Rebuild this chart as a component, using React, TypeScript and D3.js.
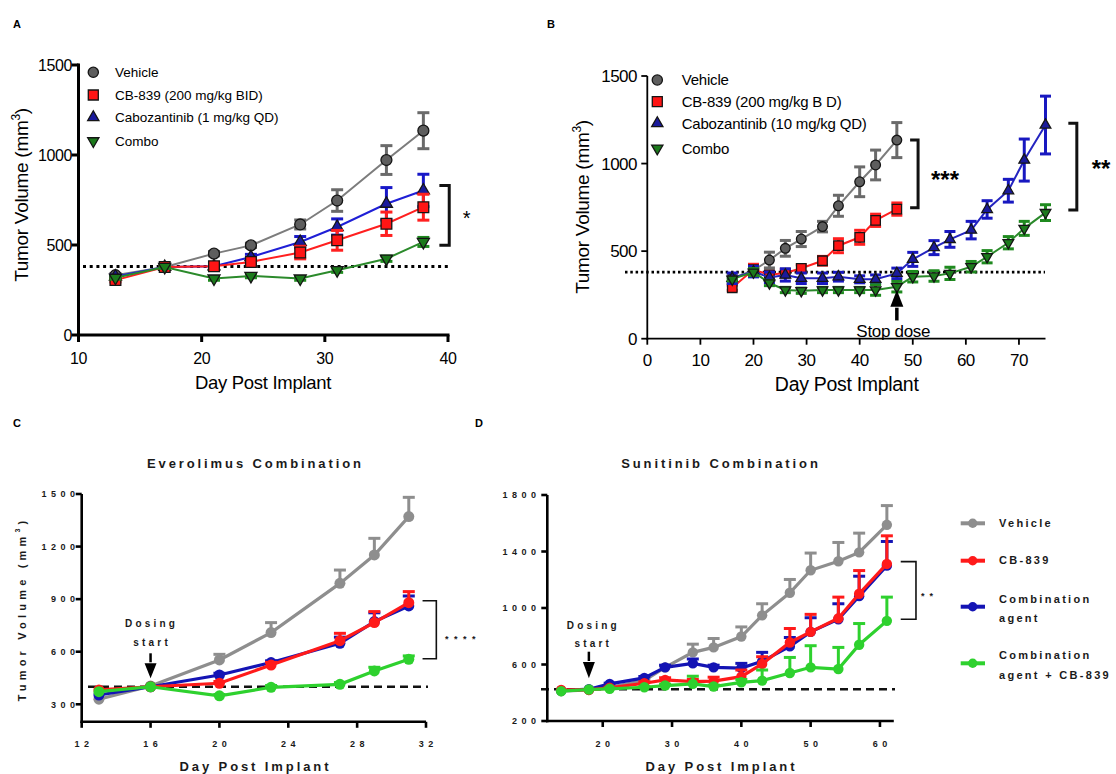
import React from 'react';
import * as d3 from 'd3';

const SANS = '"Liberation Sans", Arial, Helvetica, sans-serif';

// ---------- Panel A ----------
const daysA = [13, 17, 21, 24, 28, 31, 35, 38];
const vehicleA = [332, 378, 452, 498, 614, 747, 972, 1135];
const vehicleAErr = [10, 10, 12, 12, 25, 60, 80, 100];
const cb839A = [305, 378, 382, 406, 458, 526, 618, 710];
const cb839AErr = [10, 10, 12, 15, 35, 55, 65, 72];
const caboA = [325, 378, 382, 433, 517, 600, 729, 803];
const caboAErr = [8, 8, 10, 15, 30, 45, 90, 90];
const comboA = [318, 378, 314, 328, 314, 360, 424, 517];
const comboAErr = [8, 8, 10, 10, 10, 12, 15, 25];
const ticksAX = [10, 20, 30, 40];
const ticksAY = [0, 500, 1000, 1500];

// ---------- Panel B ----------
const daysB1 = [16, 20, 23, 26, 29, 33, 36, 40, 43, 47];
const daysB2 = [16, 20, 23, 26, 29, 33, 36, 40, 43, 47, 50, 54, 57, 61, 64, 68, 71, 75];
const vehicleB = [345, 390, 449, 516, 569, 640, 759, 896, 992, 1134];
const vehicleBErr = [15, 30, 45, 45, 43, 30, 60, 85, 85, 100];
const cb839B = [291, 395, 365, 375, 402, 445, 531, 579, 676, 740];
const cb839BErr = [15, 30, 20, 20, 20, 25, 40, 40, 35, 35];
const caboB = [345, 383, 350, 364, 345, 345, 354, 339, 339, 373, 453, 520, 567, 620, 738, 845, 1020, 1220];
const caboBErr = [30, 30, 30, 35, 30, 30, 25, 20, 25, 30, 40, 40, 45, 50, 50, 65, 120, 165];
const comboB = [340, 380, 318, 278, 274, 278, 278, 278, 278, 297, 354, 358, 373, 411, 468, 548, 630, 720];
const comboBErr = [10, 20, 15, 15, 15, 15, 15, 15, 30, 30, 30, 30, 35, 30, 35, 35, 40, 45];
const ticksBX = [0, 10, 20, 30, 40, 50, 60, 70];
const ticksBY = [0, 500, 1000, 1500];

// ---------- Panel C (Everolimus) ----------
const daysC = [13, 16, 20, 23, 27, 29, 31];
const vehicleC = [329, 405, 553, 709, 990, 1152, 1371];
const vehicleCErr = [0, 0, 32, 57, 76, 95, 110];
const cb839C = [382, 400, 420, 524, 663, 766, 880];
const cb839CErr = [0, 0, 10, 15, 42, 63, 63];
const agentC = [353, 400, 467, 538, 648, 772, 861];
const agentCErr = [0, 0, 10, 10, 35, 50, 57];
const agentCbC = [372, 400, 348, 397, 414, 490, 557];
const agentCbCErr = [0, 0, 8, 10, 10, 21, 19];
const ticksCX = [12, 16, 20, 24, 28, 32];
const ticksCY = [300, 600, 900, 1200, 1500];

// ---------- Panel D (Sunitinib) ----------
const daysD = [14, 18, 21, 26, 29, 33, 36, 40, 43, 47, 50, 54, 57, 61];
const vehicleD = [411, 420, 439, 486, 580, 686, 721, 798, 948, 1108, 1267, 1331, 1394, 1589];
const vehicleDErr = [0, 0, 5, 10, 10, 58, 63, 68, 82, 94, 122, 133, 136, 136];
const cb839D = [420, 420, 435, 467, 491, 479, 482, 514, 604, 756, 831, 927, 1101, 1312];
const cb839DErr = [0, 0, 5, 10, 15, 15, 28, 47, 51, 99, 124, 150, 164, 199];
const agentD = [416, 425, 463, 505, 580, 608, 580, 575, 622, 728, 831, 920, 1084, 1300];
const agentDErr = [0, 0, 5, 10, 15, 31, 15, 33, 64, 63, 100, 110, 141, 171];
const agentCbD = [411, 423, 428, 439, 451, 463, 444, 474, 486, 540, 580, 568, 740, 909];
const agentCbDErr = [0, 0, 5, 5, 10, 54, 10, 20, 75, 110, 153, 153, 150, 168];
const ticksDX = [20, 30, 40, 50, 60];
const ticksDY = [200, 600, 1000, 1400, 1800];

// scales
const xA = d3.scaleLinear().domain([10, 40]).range([78.5, 448]);
const yA = d3.scaleLinear().domain([0, 1500]).range([335, 65]);
const xB = d3.scaleLinear().domain([0, 75]).range([647.3, 1045.5]);
const yB = d3.scaleLinear().domain([0, 1500]).range([338.7, 76]);
const xC = d3.scaleLinear().domain([12, 32]).range([81.7, 426]);
const yC = d3.scaleLinear().domain([200, 1500]).range([721.8, 494]);
const xD = d3.scaleLinear().domain([12, 62]).range([547.3, 893.8]);
const yD = d3.scaleLinear().domain([200, 1800]).range([721, 495]);

type Mark = 'circle' | 'square' | 'up' | 'down';
type Scale = d3.ScaleLinear<number, number>;

interface ABSeries {
  label: string; days: number[]; values: number[]; errs: number[];
  line: string; err: string; fill: string; mark: Mark;
}

interface CDSeries {
  label: string[]; days: number[]; values: number[]; errs: number[]; color: string;
}

const GRAY = '#7c7c7c', RED = '#ff1f1f', BLUE = '#1f1fd6', GREEN = '#2b8a2b';

const seriesA: ABSeries[] = [
  { label: 'Vehicle', days: daysA, values: vehicleA, errs: vehicleAErr, line: GRAY, err: '#6a6a6a', fill: '#5e5e5e', mark: 'circle' },
  { label: 'CB-839 (200 mg/kg BID)', days: daysA, values: cb839A, errs: cb839AErr, line: RED, err: '#ff2020', fill: '#ff1515', mark: 'square' },
  { label: 'Cabozantinib (1 mg/kg QD)', days: daysA, values: caboA, errs: caboAErr, line: BLUE, err: '#1818c8', fill: '#1a1a9c', mark: 'up' },
  { label: 'Combo', days: daysA, values: comboA, errs: comboAErr, line: GREEN, err: '#1f8a1f', fill: '#1c7a1c', mark: 'down' },
];

const seriesB: ABSeries[] = [
  { label: 'Vehicle', days: daysB1, values: vehicleB, errs: vehicleBErr, line: GRAY, err: '#6a6a6a', fill: '#5e5e5e', mark: 'circle' },
  { label: 'CB-839 (200 mg/kg B D)', days: daysB1, values: cb839B, errs: cb839BErr, line: RED, err: '#ff2020', fill: '#ff1515', mark: 'square' },
  { label: 'Cabozantinib (10 mg/kg QD)', days: daysB2, values: caboB, errs: caboBErr, line: '#2424c0', err: '#1818c0', fill: '#1a1a9c', mark: 'up' },
  { label: 'Combo', days: daysB2, values: comboB, errs: comboBErr, line: GREEN, err: '#1f8a1f', fill: '#1c7a1c', mark: 'down' },
];

const CD_GRAY = '#8e8e8e', CD_RED = '#ff1a1a', CD_BLUE = '#1414b4', CD_GREEN = '#2ed12e';

const seriesC: CDSeries[] = [
  { label: ['Vehicle'], days: daysC, values: vehicleC, errs: vehicleCErr, color: CD_GRAY },
  { label: ['Combination', 'agent'], days: daysC, values: agentC, errs: agentCErr, color: CD_BLUE },
  { label: ['CB-839'], days: daysC, values: cb839C, errs: cb839CErr, color: CD_RED },
  { label: ['Combination', 'agent + CB-839'], days: daysC, values: agentCbC, errs: agentCbCErr, color: CD_GREEN },
];

const seriesD: CDSeries[] = [
  { label: ['Vehicle'], days: daysD, values: vehicleD, errs: vehicleDErr, color: CD_GRAY },
  { label: ['Combination', 'agent'], days: daysD, values: agentD, errs: agentDErr, color: CD_BLUE },
  { label: ['CB-839'], days: daysD, values: cb839D, errs: cb839DErr, color: CD_RED },
  { label: ['Combination', 'agent + CB-839'], days: daysD, values: agentCbD, errs: agentCbDErr, color: CD_GREEN },
];
const legendD = [seriesD[0], seriesD[2], seriesD[1], seriesD[3]];

function symbolPath(mark: Mark, size: number) {
  const type = mark === 'circle' ? d3.symbolCircle : mark === 'square' ? d3.symbolSquare : d3.symbolTriangle;
  return d3.symbol().type(type).size(size)() as string;
}

function Marker({ mark, x, y, size, fill }: { mark: Mark; x: number; y: number; size: number; fill: string }) {
  const sz = mark === 'up' || mark === 'down' ? size * 0.55 : mark === 'circle' ? size * 0.82 : size;
  return (
    <path d={symbolPath(mark, sz)} transform={`translate(${x},${y}) rotate(${mark === 'down' ? 180 : 0})`}
      fill={fill} stroke="#151515" strokeWidth={1.3} />
  );
}

function SeriesAB({ s, x, y, size, cap }: { s: ABSeries; x: Scale; y: Scale; size: number; cap: number }) {
  const line = d3.line<number>().x((_, i) => x(s.days[i])).y((v) => y(v));
  return (
    <g>
      <path d={line(s.values) as string} fill="none" stroke={s.line} strokeWidth={2} />
      {s.days.map((d, i) => {
        const cx = x(d), t = y(s.values[i] + s.errs[i]), b = y(s.values[i] - s.errs[i]);
        return (
          <g key={i} stroke={s.err} strokeWidth={3}>
            <line x1={cx} x2={cx} y1={t} y2={b} />
            <line x1={cx - cap} x2={cx + cap} y1={t} y2={t} />
            <line x1={cx - cap} x2={cx + cap} y1={b} y2={b} />
          </g>
        );
      })}
      {s.days.map((d, i) => (
        <Marker key={i} mark={s.mark} x={x(d)} y={y(s.values[i])} size={size} fill={s.fill} />
      ))}
    </g>
  );
}

function SeriesCD({ s, x, y, r }: { s: CDSeries; x: Scale; y: Scale; r: number }) {
  const line = d3.line<number>().x((_, i) => x(s.days[i])).y((v) => y(v));
  return (
    <g>
      {s.days.map((d, i) => {
        if (!s.errs[i]) return null;
        const cx = x(d), t = y(s.values[i] + s.errs[i]), b = y(s.values[i]);
        return (
          <g key={i} stroke={s.color} strokeWidth={3}>
            <line x1={cx} x2={cx} y1={t} y2={b} />
            <line x1={cx - 6} x2={cx + 6} y1={t} y2={t} />
          </g>
        );
      })}
      <path d={line(s.values) as string} fill="none" stroke={s.color} strokeWidth={3.2} />
      {s.days.map((d, i) => (
        <circle key={i} cx={x(d)} cy={y(s.values[i])} r={r} fill={s.color} />
      ))}
    </g>
  );
}

function Bracket({ x1, x2, y1, y2, w }: { x1: number; x2: number; y1: number; y2: number; w: number }) {
  return <path d={`M${x1},${y1}H${x2}V${y2}H${x1}`} fill="none" stroke="#111" strokeWidth={w} />;
}

function Arrow({ x, tip, base, top, half, w }: { x: number; tip: number; base: number; top: number; half: number; w: number }) {
  const up = tip < base;
  return (
    <g>
      <line x1={x} x2={x} y1={top} y2={base + (up ? 1 : -1)} stroke="#000" strokeWidth={w} />
      <path d={`M${x},${tip}L${x - half},${base}L${x + half},${base}Z`} fill="#000" />
    </g>
  );
}

// spaced bold text used in panels C and D
function SpacedText(props: { x: number; y: number; size: number; ls: number; anchor?: 'start' | 'middle' | 'end'; children: React.ReactNode; transform?: string }) {
  const { x, y, size, ls, anchor = 'start', children, transform } = props;
  const dx = anchor === 'middle' ? ls / 2 : anchor === 'end' ? ls : 0;
  return (
    <text x={x} y={y} dx={dx} fontSize={size} fontWeight="bold" letterSpacing={ls} textAnchor={anchor}
      fontFamily={SANS} fill="#1a1a1a" transform={transform}>
      {children}
    </text>
  );
}

function PanelA() {
  const drawOrder = [0, 2, 1, 3];
  return (
    <g fontFamily={SANS}>
      <text x={13} y={28} fontSize={11} fontWeight="bold">A</text>
      <line x1={83} x2={450} y1={yA(380)} y2={yA(380)} stroke="#000" strokeWidth={3} strokeDasharray="3 3.7" />
      {drawOrder.map((k) => <SeriesAB key={k} s={seriesA[k]} x={xA} y={yA} size={115} cap={6} />)}
      {/* axes */}
      <g stroke="#000" strokeWidth={3}>
        <line x1={xA(10)} x2={xA(10)} y1={yA(0) + 1.5} y2={yA(1500) - 1.5} />
        <line x1={xA(10) - 1.5} x2={xA(40) + 1.5} y1={yA(0)} y2={yA(0)} />
        {ticksAY.map((t) => <line key={t} x1={xA(10) - 7} x2={xA(10)} y1={yA(t)} y2={yA(t)} />)}
        {ticksAX.map((t) => <line key={t} x1={xA(t)} x2={xA(t)} y1={yA(0)} y2={yA(0) + 7} />)}
      </g>
      {ticksAY.map((t) => (
        <text key={t} x={72} y={yA(t)} dy="0.36em" fontSize={16} textAnchor="end" letterSpacing={-0.4}>{t}</text>
      ))}
      {ticksAX.map((t) => (
        <text key={t} x={xA(t)} y={364} fontSize={16} textAnchor="middle" letterSpacing={-0.4}>{t}</text>
      ))}
      <text x={263} y={388.5} fontSize={18.5} textAnchor="middle" letterSpacing={-0.3}>Day Post Implant</text>
      <text transform="translate(27.5,195) rotate(-90)" fontSize={19} textAnchor="middle" letterSpacing={-0.3}>
        Tumor Volume (mm<tspan fontSize={12} dy={-8}>3</tspan><tspan dy={8}>)</tspan>
      </text>
      {/* legend */}
      {seriesA.map((s, i) => {
        const ly = [72.3, 95, 117.3, 141][i];
        return (
          <g key={s.label}>
            <Marker mark={s.mark} x={93.3} y={ly} size={100} fill={s.fill} />
            <text x={115} y={ly} dy="0.36em" fontSize={13.5}>{s.label}</text>
          </g>
        );
      })}
      <Bracket x1={xA(39.3)} x2={xA(40.1)} y1={yA(830)} y2={yA(498)} w={3} />
      <text x={466.7} y={yA(673) + 11.5} fontSize={20} textAnchor="middle">*</text>
    </g>
  );
}

function PanelB() {
  const drawOrder = [0, 1, 2, 3];
  return (
    <g fontFamily={SANS}>
      <text x={547} y={28} fontSize={11} fontWeight="bold">B</text>
      <line x1={625} x2={1045} y1={yB(380)} y2={yB(380)} stroke="#000" strokeWidth={2.6} strokeDasharray="2.5 2.8" />
      {drawOrder.map((k) => <SeriesAB key={k} s={seriesB[k]} x={xB} y={yB} size={90} cap={5.5} />)}
      <g stroke="#000" strokeWidth={1.8}>
        <line x1={xB(0)} x2={xB(0)} y1={yB(0) + 1} y2={yB(1500)} />
        <line x1={xB(0) - 1} x2={xB(75)} y1={yB(0)} y2={yB(0)} />
        {ticksBY.map((t) => <line key={t} x1={xB(0) - 6} x2={xB(0)} y1={yB(t)} y2={yB(t)} />)}
        {ticksBX.map((t) => <line key={t} x1={xB(t)} x2={xB(t)} y1={yB(0)} y2={yB(0) + 6} />)}
      </g>
      {ticksBY.map((t) => (
        <text key={t} x={637} y={yB(t)} dy="0.36em" fontSize={17} textAnchor="end" letterSpacing={-0.5}>{t}</text>
      ))}
      {ticksBX.map((t) => (
        <text key={t} x={xB(t)} y={366} fontSize={17} textAnchor="middle" letterSpacing={-0.5}>{t}</text>
      ))}
      <text x={846.7} y={390.5} fontSize={19.5} textAnchor="middle" letterSpacing={-0.3}>Day Post Implant</text>
      <text transform="translate(589,207) rotate(-90)" fontSize={19} textAnchor="middle" letterSpacing={-0.3}>
        Tumor Volume (mm<tspan fontSize={12} dy={-8}>3</tspan><tspan dy={8}>)</tspan>
      </text>
      {seriesB.map((s, i) => {
        const ly = [80, 101.7, 123.3, 148.3][i];
        return (
          <g key={s.label}>
            <Marker mark={s.mark} x={657.3} y={ly} size={100} fill={s.fill} />
            <text x={681.7} y={ly} dy="0.36em" fontSize={15} letterSpacing={-0.2}>{s.label}</text>
          </g>
        );
      })}
      <Bracket x1={xB(49.5)} x2={xB(51)} y1={yB(1135)} y2={yB(748)} w={3} />
      <text x={945} y={173.7 + 14} fontSize={24} fontWeight="bold" textAnchor="middle">***</text>
      <Bracket x1={xB(79.3)} x2={xB(80.9)} y1={yB(1230)} y2={yB(735)} w={3} />
      <text x={1101} y={163 + 14} fontSize={24} fontWeight="bold" textAnchor="middle">**</text>
      <Arrow x={xB(47)} tip={290} base={306.7} top={320.5} half={6.5} w={3.5} />
      <text x={893.3} y={337} fontSize={17} textAnchor="middle" letterSpacing={-0.3}>Stop dose</text>
    </g>
  );
}

function PanelC() {
  return (
    <g fontFamily={SANS}>
      <text x={13} y={427} fontSize={11} fontWeight="bold">C</text>
      <SpacedText x={254} y={468} size={13} ls={2.9} anchor="middle">Everolimus Combination</SpacedText>
      <line x1={88} x2={428} y1={yC(400)} y2={yC(400)} stroke="#111" strokeWidth={2.6} strokeDasharray="8 5" />
      {seriesC.map((s, i) => <SeriesCD key={i} s={s} x={xC} y={yC} r={5.5} />)}
      <g stroke="#000" strokeWidth={2.6}>
        <line x1={xC(12)} x2={xC(12)} y1={yC(200) + 1.3} y2={yC(1500)} />
        <line x1={xC(12) - 1.3} x2={xC(32)} y1={yC(200)} y2={yC(200)} />
        {ticksCY.map((t) => <line key={t} x1={xC(12) - 6} x2={xC(12)} y1={yC(t)} y2={yC(t)} />)}
        {ticksCX.map((t) => <line key={t} x1={xC(t)} x2={xC(t)} y1={yC(200)} y2={yC(200) + 6} />)}
      </g>
      {ticksCY.map((t) => (
        <SpacedText key={t} x={75} y={yC(t) + 3.3} size={9} ls={4.5} anchor="end">{t}</SpacedText>
      ))}
      {ticksCX.map((t) => (
        <SpacedText key={t} x={xC(t)} y={747} size={9} ls={4.5} anchor="middle">{t}</SpacedText>
      ))}
      <SpacedText x={254} y={771} size={13} ls={2.9} anchor="middle">Day Post Implant</SpacedText>
      <SpacedText x={0} y={0} size={11} ls={4.2} anchor="middle" transform="translate(26,611) rotate(-90)">
        Tumor Volume (mm<tspan fontSize={7} dy={-6}>3</tspan><tspan dy={6}>)</tspan>
      </SpacedText>
      <SpacedText x={150} y={627} size={10} ls={3.2} anchor="middle">Dosing</SpacedText>
      <SpacedText x={150.5} y={645.5} size={10} ls={3.2} anchor="middle">start</SpacedText>
      <Arrow x={xC(16)} tip={678.3} base={663.3} top={653.3} half={6} w={2.5} />
      <Bracket x1={xC(31.8)} x2={xC(32.6)} y1={yC(891)} y2={yC(560)} w={1.6} />
      <SpacedText x={445} y={642} size={9} ls={5.5}>****</SpacedText>
    </g>
  );
}

function PanelD() {
  return (
    <g fontFamily={SANS}>
      <text x={475} y={427} fontSize={11} fontWeight="bold">D</text>
      <SpacedText x={719.5} y={468} size={13} ls={2.9} anchor="middle">Sunitinib Combination</SpacedText>
      <line x1={541} x2={895} y1={yD(425)} y2={yD(425)} stroke="#111" strokeWidth={2.6} strokeDasharray="8 5" />
      {seriesD.map((s, i) => <SeriesCD key={i} s={s} x={xD} y={yD} r={5.2} />)}
      <g stroke="#000" strokeWidth={2.6}>
        <line x1={xD(12)} x2={xD(12)} y1={yD(200) + 1.3} y2={yD(1800)} />
        <line x1={xD(12) - 1.3} x2={xD(62)} y1={yD(200)} y2={yD(200)} />
        {ticksDY.map((t) => <line key={t} x1={xD(12) - 6} x2={xD(12)} y1={yD(t)} y2={yD(t)} />)}
        {ticksDX.map((t) => <line key={t} x1={xD(t)} x2={xD(t)} y1={yD(200)} y2={yD(200) + 6} />)}
      </g>
      {ticksDY.map((t) => (
        <SpacedText key={t} x={536} y={yD(t) + 3.3} size={9} ls={4.5} anchor="end">{t}</SpacedText>
      ))}
      {ticksDX.map((t) => (
        <SpacedText key={t} x={xD(t)} y={747} size={9} ls={4.5} anchor="middle">{t}</SpacedText>
      ))}
      <SpacedText x={720} y={771} size={13} ls={2.9} anchor="middle">Day Post Implant</SpacedText>
      <SpacedText x={591.7} y={628.5} size={10} ls={3.2} anchor="middle">Dosing</SpacedText>
      <SpacedText x={591.7} y={647} size={10} ls={3.2} anchor="middle">start</SpacedText>
      <Arrow x={xD(18)} tip={678.3} base={662} top={651.7} half={6} w={2.5} />
      <Bracket x1={xD(63)} x2={xD(65.2)} y1={yD(1328)} y2={yD(920)} w={1.6} />
      <SpacedText x={921} y={598.5} size={9} ls={5}>**</SpacedText>
      {/* legend */}
      {legendD.map((s, i) => {
        const ly = [523.3, 560.7, 606.7, 663.3][i];
        const ty = s.label.length === 1 ? [ly + 3.5] : [ly - 4, ly + 15.5];
        return (
          <g key={i}>
            <line x1={960.7} x2={985} y1={ly} y2={ly} stroke={s.color} strokeWidth={4} />
            <circle cx={972.7} cy={ly} r={4.7} fill={s.color} />
            {s.label.map((t, j) => (
              <SpacedText key={j} x={999} y={ty[j]} size={11} ls={2.3}>{t}</SpacedText>
            ))}
          </g>
        );
      })}
    </g>
  );
}

export default function App() {
  return (
    <div style={{ position: 'absolute', left: 0, top: 0, background: '#fff' }}>
      <svg width={1116} height={774} viewBox="0 0 1116 774" style={{ display: 'block' }}>
        <rect width={1116} height={774} fill="#fff" />
        <PanelA />
        <PanelB />
        <PanelC />
        <PanelD />
      </svg>
    </div>
  );
}
